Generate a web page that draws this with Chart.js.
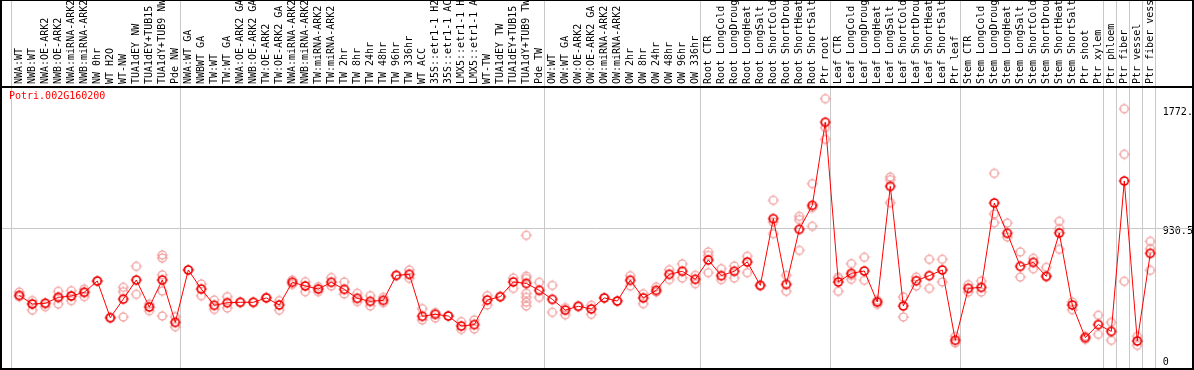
<!DOCTYPE html>
<html><head><meta charset="utf-8">
<script src="https://cdn.jsdelivr.net/npm/chart.js@4/dist/chart.umd.min.js"></script>
<style>html,body{margin:0;padding:0;background:#fff;}canvas{display:block;}</style>
</head><body>
<canvas id="c" width="1194" height="370"></canvas>
<script>
const chartTitle = "Potri.002G160200";
const categories = [
"NWA:WT","NWB:WT","NWA:OE-ARK2","NWB:OE-ARK2","NWA:miRNA-ARK2","NWB:miRNA-ARK2","NW 0hr","WT H2O","WT-NW","TUA1dEY NW","TUA1dEY+TUB15","TUA1dY+TUB9 NW","Pde NW",
"NWA:WT GA","NWBWT GA","TW:WT","TW:WT GA","NWA:OE-ARK2 GA","NWB:OE-ARK2 GA","TW:OE-ARK2","TW:OE-ARK2 GA","NWA:miRNA-ARK2","NWB:miRNA-ARK2","TW:miRNA-ARK2","TW:miRNA-ARK2","TW 2hr","TW 8hr","TW 24hr","TW 48hr","TW 96hr","TW 336hr","WT ACC","35S::etr1-1 H2","35S::etr1-1 AC","LMX5::etr1-1 H","LMX5::etr1-1 A","WT-TW","TUA1dEY TW","TUA1dEY+TUB15","TUA1dY+TUB9 TW","Pde TW",
"OW:WT","OW:WT GA","OW:OE-ARK2","OW:OE-ARK2 GA","OW:miRNA-ARK2","OW:miRNA-ARK2","OW 2hr","OW 8hr","OW 24hr","OW 48hr","OW 96hr","OW 336hr",
"Root CTR","Root LongCold","Root LongDroug","Root LongHeat","Root LongSalt","Root ShortCold","Root ShortDrou","Root ShortHeat","Root ShortSalt","Ptr root",
"Leaf CTR","Leaf LongCold","Leaf LongDroug","Leaf LongHeat","Leaf LongSalt","Leaf ShortCold","Leaf ShortDrou","Leaf ShortHeat","Leaf ShortSalt","Ptr leaf",
"Stem CTR","Stem LongCold","Stem LongDroug","Stem LongHeat","Stem LongSalt","Stem ShortCold","Stem ShortDrou","Stem ShortHeat","Stem ShortSalt","Ptr shoot",
"Ptr xylem","Ptr phloem","Ptr fiber","Ptr vessel","Ptr fiber vess"
];
const means = [
455,394,399,441,451,477,557,297,429,564,373,564,264,
635,500,385,403,406,406,437,387,548,522,500,548,498,434,413,420,597,604,307,321,309,238,248,422,446,550,540,491,
427,351,378,359,437,415,562,437,491,604,626,569,
706,595,626,692,526,999,533,923,1093,1682,
550,611,628,408,1228,380,559,595,635,137,
505,512,1110,895,661,689,590,897,387,156,
248,200,1266,132,753
];
const replicates = [
[479,446],[418,394,351],[399,375],[484,441,394],[488,451,418],[500,477,446],[557],[297],[512,481,302],[661,463],[394,347],[741,720,600,486,309],[304,233],
[635],[536,453],[422,356],[446,366],[406],[406],[441],[418,351],[564,533],[552,481],[517,481],[581,522],[550,465],[470,411],[453,380],[441,403],[597],[635,576],[361,281],[333,295],[309],[269,214],[281,217],[453,387],[446],[578,505],[881,592,576,470,441,408,380],[548,441],
[526,335],[368,318],[378],[385,321],[437],[415],[595,522],[467,396],[515,479],[637,567],[678,578],[597,538],
[763,739,616],[644,567],[663,578],[732,616],[526],[1129,975,892],[597,484],[1015,992,774],[1247,1077,945],[1849,1644,1561],
[585,574,484],[680,597,569],[725,562],[420,392],[1294,1275,1112],[444,302],[585,522],[711,505],[711,550],[165,118],
[531,479],[557,479],[1320,1032,970],[968,869],[763,585],[718,644],[654,590],[980,928,782],[408,354],[165,144],
[314,179],[264,137],[1778,1455,555],[165,101],[838,786,633]
];
const yTickValues = [0, 930.5, 1772];
const yTickLabels = ["0", "930.5", "1772."];
const groupStarts = [0, 13, 41, 53, 63, 73, 84, 85, 86, 87, 88];

const FONT = "'DejaVu Sans Mono', 'Liberation Mono', monospace";

function makeMarker(color, lw) {
  const c = document.createElement('canvas');
  c.width = 14; c.height = 14;
  const g = c.getContext('2d');
  g.strokeStyle = color;
  g.lineWidth = lw;
  g.beginPath(); g.arc(7, 7, 4, 0, 2 * Math.PI); g.stroke();
  g.lineWidth = 1;
  g.beginPath();
  g.moveTo(7, 1.5); g.lineTo(7, 3.5); g.moveTo(7, 10.5); g.lineTo(7, 12.5);
  g.moveTo(1.5, 7); g.lineTo(3.5, 7); g.moveTo(10.5, 7); g.lineTo(12.5, 7);
  g.stroke();
  return c;
}
const repMarker = makeMarker('#f09595', 1.2);
const meanMarker = makeMarker('#f00000', 1.7);

const maxReps = Math.max(...replicates.map(r => r.length));
const repDatasets = [];
for (let k = 0; k < maxReps; k++) {
  repDatasets.push({
    label: 'rep' + k,
    data: replicates.map(r => (k < r.length ? r[k] : null)),
    showLine: false,
    pointStyle: repMarker,
    pointRadius: 4,
    pointHoverRadius: 4,
    borderColor: '#f09595',
    order: 2
  });
}

const decorPlugin = {
  id: 'decor',
  beforeDatasetsDraw(chart) {
    const ctx = chart.ctx, xs = chart.scales.x, ys = chart.scales.y;
    ctx.save();
    ctx.strokeStyle = '#c8c8c8';
    ctx.lineWidth = 1;
    groupStarts.forEach(b => {
      const x = Math.round(xs.getPixelForValue(b - 0.65)) + 0.5;
      ctx.beginPath(); ctx.moveTo(x, 0); ctx.lineTo(x, chart.chartArea.bottom); ctx.stroke();
    });
    const gy = Math.round(ys.getPixelForValue(yTickValues[1])) + 0.5;
    ctx.beginPath(); ctx.moveTo(1, gy); ctx.lineTo(1192, gy); ctx.stroke();
    ctx.restore();
  },
  afterDraw(chart) {
    const ctx = chart.ctx, a = chart.chartArea;
    ctx.save();
    ctx.fillStyle = '#000';
    ctx.fillRect(0, 0, 1194, 1);
    ctx.fillRect(0, a.top - 1, 1194, 2);
    ctx.fillRect(0, a.bottom, 1194, 2);
    ctx.fillRect(0, 0, 2, a.bottom + 2);
    ctx.fillRect(1192, 0, 2, a.bottom + 2);
    ctx.fillStyle = '#ff0000';
    ctx.font = '10px ' + FONT;
    ctx.textBaseline = 'top';
    ctx.fillText(chartTitle, 9, a.top + 4);
    ctx.restore();
  }
};

new Chart(document.getElementById('c'), {
  type: 'line',
  data: {
    labels: categories,
    datasets: [
      {
        label: 'mean',
        data: means,
        borderColor: '#ff0000',
        borderWidth: 1,
        pointStyle: meanMarker,
        pointRadius: 4,
        pointHoverRadius: 4,
        tension: 0,
        order: 1
      },
      ...repDatasets
    ]
  },
  options: {
    responsive: false,
    animation: false,
    devicePixelRatio: 1,
    events: [],
    layout: { autoPadding: false, padding: { left: 12.8, right: 0, top: 0, bottom: 2 } },
    plugins: { legend: { display: false }, tooltip: { enabled: false }, title: { display: false } },
    scales: {
      x: {
        type: 'category',
        position: 'top',
        offset: true,
        grid: { display: false, drawTicks: false },
        border: { display: false },
        ticks: {
          autoSkip: false, minRotation: 90, maxRotation: 90, padding: 3, labelOffset: 12,
          color: '#000', font: { family: FONT, size: 10 }
        },
        afterFit(s) { s.height = 87; s.paddingLeft = 0; s.paddingRight = 0; }
      },
      y: {
        type: 'linear',
        position: 'right',
        min: -59.5,
        max: 1931.8,
        grid: { display: false, drawTicks: false },
        border: { display: false },
        afterBuildTicks(s) { s.ticks = yTickValues.map(v => ({ value: v })); },
        ticks: {
          padding: 6, labelOffset: 3, color: '#000',
          font: { family: FONT, size: 10 },
          callback: (v, i) => yTickLabels[i]
        },
        afterFit(s) { s.width = 37.2; s.paddingTop = 0; s.paddingBottom = 0; }
      }
    }
  },
  plugins: [decorPlugin]
});
</script>
</body></html>
